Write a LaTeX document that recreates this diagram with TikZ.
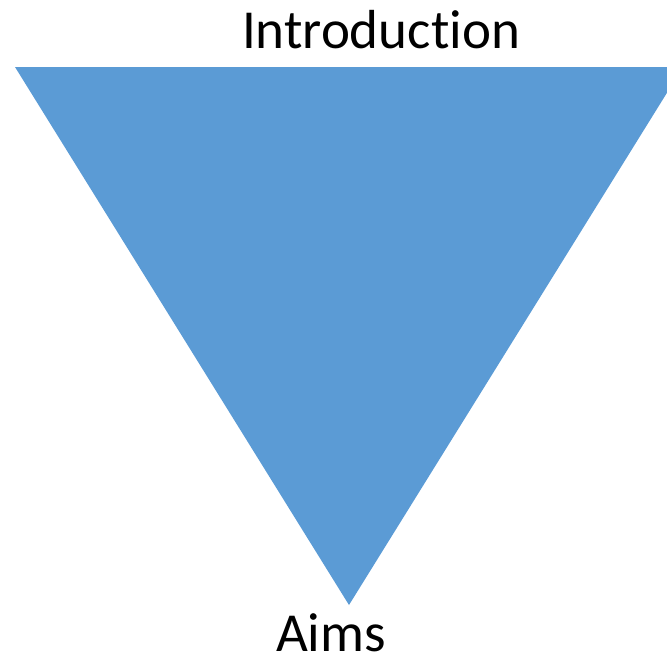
\documentclass[tikz,border=0pt]{standalone}
\usepackage{fontspec}
\setmainfont[Ligatures={NoCommon,NoRare}]{Carlito}
\usepackage{xcolor}
\definecolor{funnelblue}{HTML}{5B9BD5}

\begin{document}
\begin{tikzpicture}[x=1pt,y=-1pt]
    \tikzstyle{label}=[anchor=base,inner sep=0pt,text depth=0pt,font=\fontsize{55}{60}\selectfont]
    \tikzstyle{funnel}=[fill=funnelblue,draw=none]

    \useasboundingbox (0,0) rectangle (667,656);
    \clip (0,0) rectangle (667,656);

    % inverted triangle
    \coordinate (topleft) at (15,67);
    \coordinate (topright) at (683,67);
    \coordinate (apex) at (349,605);
    \fill [funnel] (topleft) -- (topright) -- (apex) -- cycle;

    \node[label] (intro) at (381,48) {Introduction};
    \node[label] (aims) at (331,651) {Aims};

\end{tikzpicture}
\end{document}
